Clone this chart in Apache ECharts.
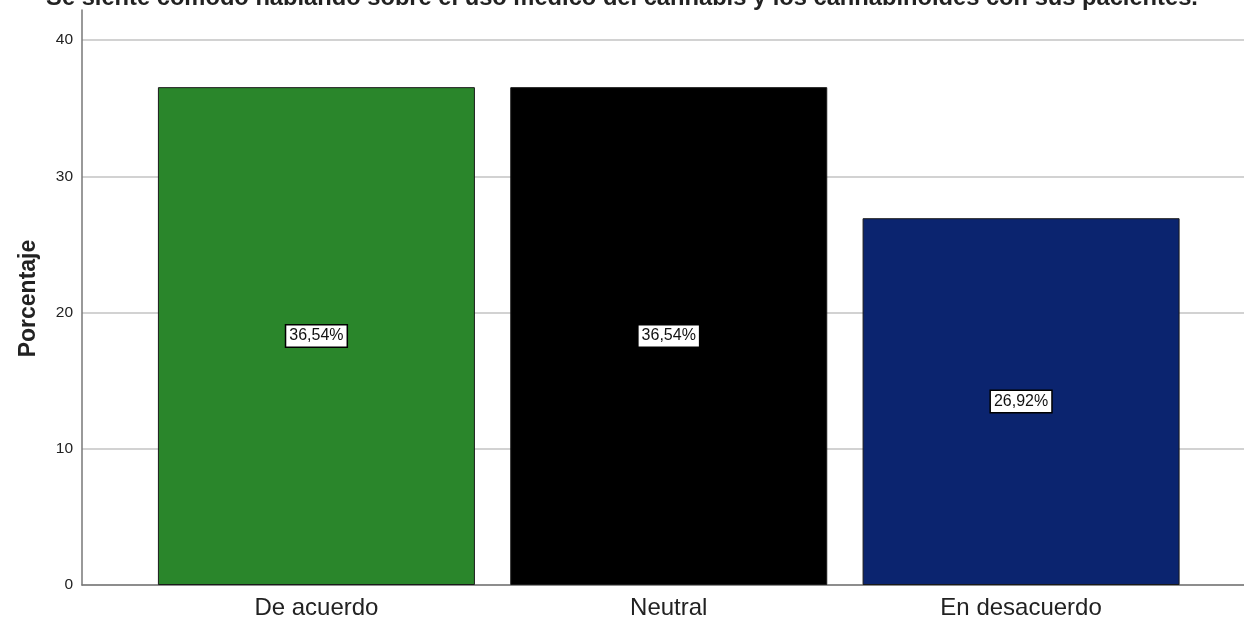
<!DOCTYPE html>
<html>
<head>
<meta charset="utf-8">
<script src="https://cdn.jsdelivr.net/npm/echarts@6/dist/echarts.min.js"></script>
<style>
  html, body { margin: 0; padding: 0; background: #fff; }
  #chart { width: 1244px; height: 621px; }
</style>
</head>
<body>
<div id="chart"></div>
<script>
// Survey responses: share of respondents per answer
const titleText = 'Se siente cómodo hablando sobre el uso médico del cannabis y los cannabinoides con sus pacientes.';
const categories = ['De acuerdo', 'Neutral', 'En desacuerdo'];
const percentages = [36.54, 36.54, 26.92];
const barColors = ['#2a862b', '#000000', '#0b246f'];
const yTicks = [0, 10, 20, 30, 40];
const yName = 'Porcentaje';

const yMin = yTicks[0];
const yMax = yTicks[yTicks.length - 1];
const yStep = yTicks[1] - yTicks[0];
const FONT = 'Liberation Sans, Arial, sans-serif';

const fmtPct = v => v.toFixed(2).replace('.', ',') + '%';

const chart = echarts.init(document.getElementById('chart'), null, { renderer: 'canvas' });

chart.setOption({
  animation: false,
  backgroundColor: '#ffffff',
  title: {
    text: titleText,
    left: 'center',
    top: -19,
    textStyle: { fontFamily: FONT, fontWeight: 'bold', fontSize: 23.7, color: '#222' }
  },
  grid: [
    // frame: gridlines, y labels, x baseline
    { left: 82, right: 0, top: 40, bottom: 36 },
    // bars
    { left: 140.25, right: 46.75, top: 40, bottom: 36 },
    // upper extension of the y axis line
    { left: 82, right: 0, top: 10, bottom: 36 }
  ],
  xAxis: [
    {
      gridIndex: 0, type: 'value', min: 0, max: 1,
      axisLine: { show: true, onZero: false, lineStyle: { color: '#777', width: 1.5 } },
      axisTick: { show: false }, axisLabel: { show: false }, splitLine: { show: false }
    },
    {
      gridIndex: 1, type: 'category', data: categories,
      axisLine: { show: false }, axisTick: { show: false },
      axisLabel: { fontFamily: FONT, fontSize: 24, color: '#222', margin: 11 }
    },
    {
      gridIndex: 2, type: 'value', min: 0, max: 1, show: false
    }
  ],
  yAxis: [
    {
      gridIndex: 0, type: 'value', min: yMin, max: yMax, interval: yStep,
      name: yName, nameLocation: 'middle', nameGap: 42,
      nameTextStyle: { fontFamily: FONT, fontWeight: 'bold', fontSize: 23, color: '#222', padding: [0, 0, 0, 28] },
      axisLine: { show: false },
      axisTick: { show: false },
      axisLabel: { fontFamily: FONT, fontSize: 15.5, color: '#222', margin: 9 },
      splitLine: { show: true, lineStyle: { color: '#d2d2d2', width: 2 } }
    },
    {
      gridIndex: 1, type: 'value', min: yMin, max: yMax, interval: yStep, show: false
    },
    {
      gridIndex: 2, type: 'value', min: 0, max: 1,
      axisLine: { show: true, lineStyle: { color: '#777', width: 1.5 } },
      axisTick: { show: false }, axisLabel: { show: false }, splitLine: { show: false }
    }
  ],
  series: [
    {
      type: 'bar',
      xAxisIndex: 1,
      yAxisIndex: 1,
      barWidth: 317,
      data: percentages.map((v, i) => ({
        value: v,
        itemStyle: { color: barColors[i], borderColor: '#1a1a1a', borderWidth: 1 }
      })),
      label: {
        show: true,
        position: 'inside',
        formatter: p => fmtPct(p.value),
        fontFamily: FONT,
        fontSize: 16,
        color: '#111',
        backgroundColor: '#ffffff',
        borderColor: '#000000',
        borderWidth: 1.5,
        padding: [3, 3, 2, 3]
      }
    }
  ]
});
</script>
</body>
</html>
